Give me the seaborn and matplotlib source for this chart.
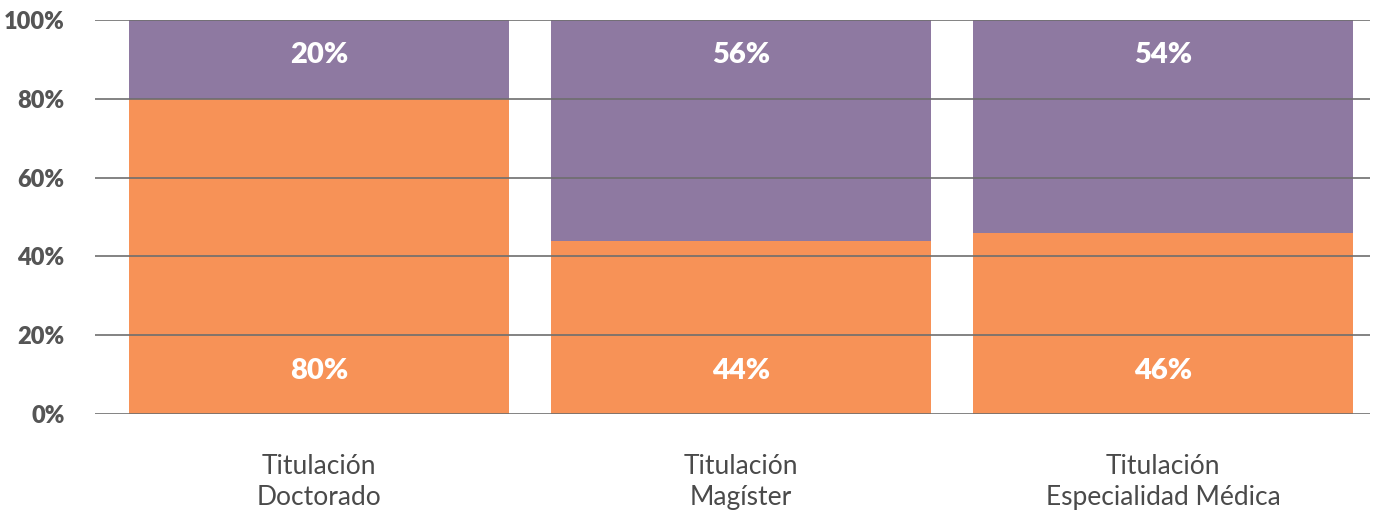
import matplotlib
matplotlib.use("Agg")
import matplotlib.pyplot as plt
import seaborn as sns
import pandas as pd

# datos
categorias = ["Titulación\nDoctorado", "Titulación\nMagíster", "Titulación\nEspecialidad Médica"]
naranja = [80, 44, 46]
morado = [20, 56, 54]
ticks_y = [0, 20, 40, 60, 80, 100]

df = pd.DataFrame({"cat": categorias, "naranja": naranja, "morado": morado})
df["total"] = df["naranja"] + df["morado"]

sns.set_style("white")
plt.rcParams["font.family"] = ["Lato", "DejaVu Sans"]

fig = plt.figure(figsize=(13.93, 5.17), dpi=100)
ax = fig.add_axes([0.0682, 0.1992, 0.9153, 0.7621])

# barras apiladas: total morado detras, naranja delante
sns.barplot(data=df, x="cat", y="total", color="#8E79A1", width=0.9,
            saturation=1, linewidth=0, ax=ax, zorder=1)
sns.barplot(data=df, x="cat", y="naranja", color="#F79257", width=0.9,
            saturation=1, linewidth=0, ax=ax, zorder=1)

# etiquetas dentro de las barras
for i, row in df.iterrows():
    ax.text(i, 10.8, f"{row['naranja']}%", ha="center", va="center",
            color="white", fontsize=21, fontweight="heavy", zorder=4)
    ax.text(i, 91.2, f"{row['morado']}%", ha="center", va="center",
            color="white", fontsize=21, fontweight="heavy", zorder=4)

ax.set_xlim(-0.53, 2.49)
ax.set_ylim(0, 100)
ax.set_yticks(ticks_y)
ax.set_yticklabels([f"{t}%" for t in ticks_y], fontsize=17,
                   fontweight="heavy", color="#555555")
ax.tick_params(axis="y", length=0, pad=22)
ax.tick_params(axis="x", length=0, pad=29)
ax.set_xticks(range(len(categorias)))
ax.set_xticklabels(categorias, fontsize=19, fontweight="normal",
                   color="#4A4A4A", linespacing=1.3)

ax.set_axisbelow(False)
ax.yaxis.grid(True, color="#6E6E6E", linewidth=1.2)
ax.xaxis.grid(False)
for s in ax.spines.values():
    s.set_visible(False)

ax.set_xlabel("")
ax.set_ylabel("")

plt.savefig("out.png", dpi=100)
